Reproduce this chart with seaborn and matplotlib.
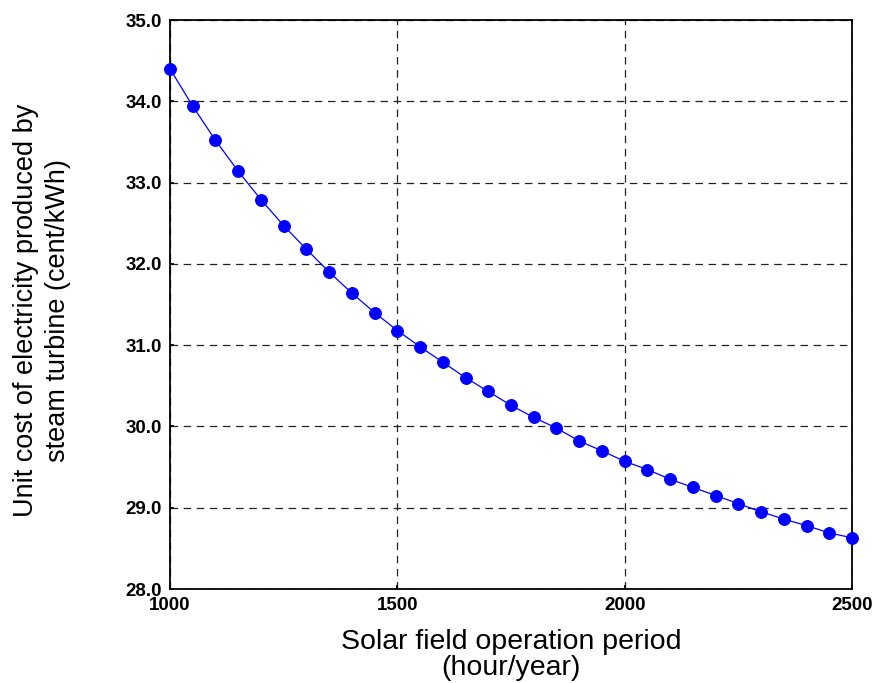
import matplotlib
matplotlib.use("Agg")
import matplotlib.pyplot as plt
import pandas as pd
import seaborn as sns

# operating hours and unit cost
hours = list(range(1000, 2501, 50))
cost = [34.40, 33.94, 33.52, 33.14, 32.79, 32.47, 32.18, 31.90, 31.64, 31.40,
        31.18, 30.98, 30.79, 30.60, 30.43, 30.26, 30.11, 29.98, 29.82, 29.70,
        29.57, 29.47, 29.35, 29.25, 29.15, 29.05, 28.95, 28.86, 28.78, 28.69,
        28.63]
x_ticks = [1000, 1500, 2000, 2500]
y_ticks = [28.0, 29.0, 30.0, 31.0, 32.0, 33.0, 34.0, 35.0]

sns.set_theme(style="ticks")
plt.rcParams["font.family"] = ["Liberation Sans", "DejaVu Sans"]
plt.rcParams["text.color"] = "black"
plt.rcParams["axes.labelcolor"] = "black"
plt.rcParams["xtick.color"] = "black"
plt.rcParams["ytick.color"] = "black"

df = pd.DataFrame({"hours": hours, "cost": cost})

fig = plt.figure(figsize=(8.78, 6.83), dpi=100)
ax = fig.add_axes([170 / 878, 1 - 589 / 683, (852 - 170) / 878, (589 - 20) / 683])
sns.lineplot(data=df, x="hours", y="cost", color="#0000ff", lw=0.9,
             marker="o", markersize=8.5, markeredgecolor="#0000ff",
             clip_on=False, zorder=5, ax=ax)

ax.set_xlim(1000, 2500); ax.set_ylim(28, 35)
ax.set_xticks(x_ticks)
ax.set_yticks(y_ticks)
ax.set_yticklabels([f"{v:.1f}" for v in y_ticks])
for lab in ax.get_xticklabels() + ax.get_yticklabels():
    lab.set_fontweight("bold"); lab.set_fontsize(13.5)
ax.tick_params(axis="x", direction="in", length=3, pad=6)
ax.tick_params(axis="y", direction="in", length=3, pad=6)
ax.grid(True, color="#222222", ls=(0, (6, 4.5)), lw=0.9)
for s in ax.spines.values():
    s.set_color("black"); s.set_linewidth(1.3)

ax.set_xlabel("Solar field operation period\n(hour/year)", fontsize=20.5,
              va="top", linespacing=1.0)
ax.xaxis.set_label_coords(0.5, -0.07)
ax.set_ylabel("Unit cost of electricity produced by\nsteam turbine (cent/kWh)",
              fontsize=19.5, linespacing=1.3)
ax.yaxis.set_label_coords(-0.145, 0.49)

fig.savefig("out.png", dpi=100)
